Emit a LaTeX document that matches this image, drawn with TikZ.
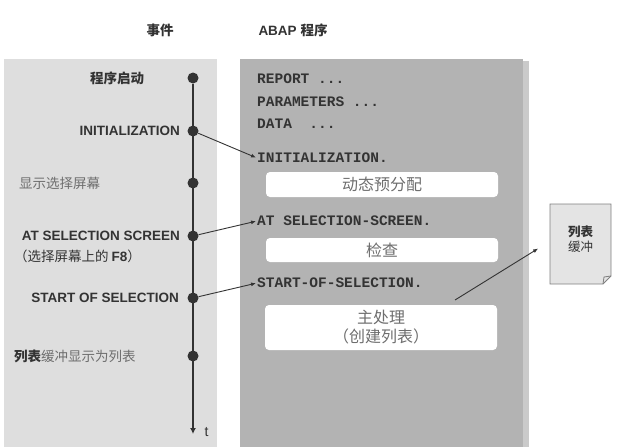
\documentclass[tikz,border=0pt]{standalone}
\usepackage{fontspec}
\setmainfont{Liberation Sans}
\setmonofont{Liberation Mono}
\newfontfamily\cjk{Noto Sans CJK SC}
\usetikzlibrary{arrows.meta}

\definecolor{lightpanel}{HTML}{DEDEDE}
\definecolor{darkpanel}{HTML}{B3B3B3}
\definecolor{panelshadow}{HTML}{CACACA}
\definecolor{labeltext}{HTML}{333333}
\definecolor{softtext}{HTML}{6E6E6E}

\begin{document}
\begin{tikzpicture}[x=1pt,y=-1pt,
  event/.style = {font=\fontsize{13.5}{15}\selectfont\bfseries, text=labeltext, inner sep=0pt},
  cjkevent/.style = {font=\fontsize{13.5}{15}\selectfont\cjk, text=softtext, inner sep=0pt},
  code/.style = {font=\fontsize{14.5}{16}\selectfont\ttfamily\bfseries, text=labeltext, anchor=west, inner sep=0pt},
  stepbox/.style = {fill=white, rounded corners=4pt, minimum width=232pt, font=\fontsize{16}{19}\selectfont\cjk, text=softtext, align=center},
  dot/.style = {circle, fill=labeltext, minimum size=11pt, inner sep=0pt},
  link/.style = {draw=labeltext, line width=0.9pt, -{Latex[length=5pt,width=4pt]}, shorten >=1pt}]
\useasboundingbox (0,0) rectangle (618,447);

% panels
\fill[lightpanel] (4,59) rectangle (217,447);
\fill[panelshadow] (240,61) rectangle (529,447);
\fill[darkpanel] (240,59) rectangle (523,447);

% titles
\node[font=\fontsize{13.5}{15}\selectfont\cjk\bfseries, text=labeltext] (events) at (160,30) {事件};
\node[font=\fontsize{13.5}{15}\selectfont\bfseries, text=labeltext] (program) at (293,30) {ABAP {\cjk 程序}};

% time line
\node[dot] (start) at (193,78) {};
\node[dot] (init) at (193,131) {};
\node[dot] (show) at (193,183) {};
\node[dot] (atsel) at (193,236) {};
\node[dot] (sos) at (193,298) {};
\node[dot] (list) at (193,356) {};
\coordinate (tend) at (193,434);
\draw[draw=labeltext, line width=1.8pt, -{Latex[length=6pt,width=6pt]}] (start) -- (tend);
\node[font=\fontsize{14}{15}\selectfont, text=labeltext, anchor=west] (tlabel) at (201,432) {t};

% events
\node[cjkevent, text=labeltext, font=\fontsize{13.5}{15}\selectfont\cjk\bfseries] (startlabel) at (117,78) {程序启动};
\node[event, anchor=east] (initlabel) at (180,131) {INITIALIZATION};
\node[cjkevent, anchor=west] (showlabel) at (19,183) {显示选择屏幕};
\node[event, anchor=east] (atsellabel) at (180,236) {AT SELECTION SCREEN};
\node[cjkevent, anchor=west, text=labeltext] (f8label) at (14,256) {（选择屏幕上的 {\fontspec{Liberation Sans}\bfseries F8}）};
\node[event, anchor=east] (soslabel) at (179,298) {START OF SELECTION};
\node[cjkevent, anchor=west] (listlabel) at (14,356) {{\bfseries\color{labeltext}列表}缓冲显示为列表};

% program
\node[code] (report) at (257,79) {REPORT ...};
\node[code] (params) at (257,102) {PARAMETERS ...};
\node[code] (data) at (257,124) {DATA~~...};
\node[code] (initcode) at (257,158) {INITIALIZATION.};
\node[stepbox, minimum height=25pt] (prealloc) at (382,184.5) {动态预分配};
\node[code] (atselcode) at (257,221) {AT SELECTION-SCREEN.};
\node[stepbox, minimum height=24pt] (check) at (382,250) {检查};
\node[code] (soscode) at (257,283) {START-OF-SELECTION.};
\node[stepbox, minimum height=45pt, inner sep=2pt] (main) at (381,327.5) {主处理\\（创建列表）};

\draw[link] (init) -- (initcode.west);
\draw[link] (atsel) -- (atselcode.west);
\draw[link] (sos) -- (soscode.west);

% list buffer
\fill[panelshadow!50!white, draw=gray, line width=0.8pt] (550,204) -- (611,204) -- (611,276) -- (603,284) -- (550,284) -- cycle;
\draw[gray, line width=0.8pt] (611,276) -- (604,277) -- (603,284);
\node[font=\fontsize{12.5}{15}\selectfont\cjk, text=labeltext, align=center] (buffer) at (580.5,239) {\textbf{列表}\\缓冲};
\coordinate (fromsos) at (455,300);
\coordinate (tobuffer) at (539,248);
\draw[link] (fromsos) -- (tobuffer);
\end{tikzpicture}
\end{document}
